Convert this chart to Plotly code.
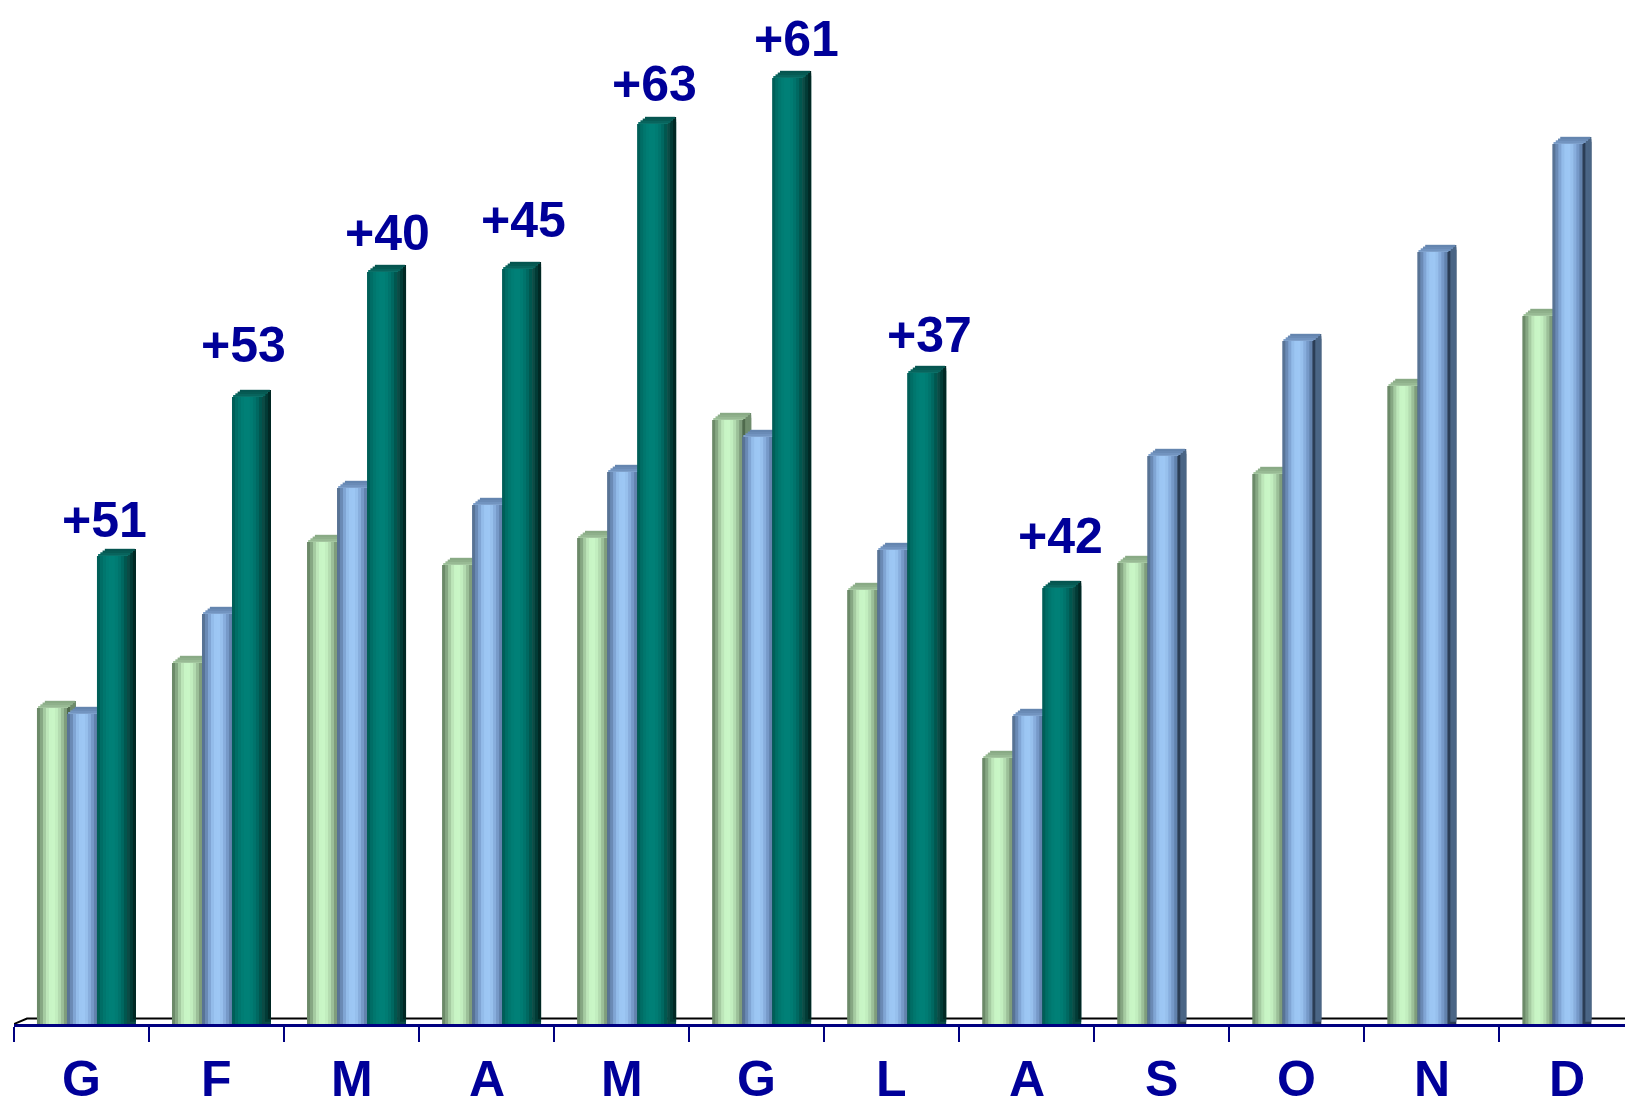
import plotly.graph_objects as go

# ---- data -------------------------------------------------------------
MONTHS = ["G", "F", "M", "A", "M", "G", "L", "A", "S", "O", "N", "D"]
SERIES_A = [31.6, 36.1, 48.2, 45.9, 48.6, 60.4, 43.4, 26.6, 46.1, 55.0, 63.8, 70.8]   # light green
SERIES_B = [31.0, 41.0, 53.6, 51.9, 55.2, 58.7, 47.4, 30.8, 56.8, 68.3, 77.2, 88.0]   # light blue
SERIES_C = [46.8, 62.7, 75.2, 75.5, 90.0, 94.6, 65.1, 43.6, None, None, None, None]  # teal
GROWTH_LABELS = ["+51", "+53", "+40", "+45", "+63", "+61", "+37", "+42"]

# ---- geometry / style -------------------------------------------------
W, H = 1625, 1107
M_L, M_B = 14, 83
X_MIN, X_MAX = -0.5, 11.43
Y_MAX = (H - M_B) / 10.0          # 10 px per unit
PX_X = (W - M_L) / (X_MAX - X_MIN)
PX_Y = (H - M_B) / Y_MAX

BAR_W = 30 / PX_X                 # front face width
START = -0.33                     # left edge of first bar in a group
DX = 9 / PX_X                     # 3-D depth (horizontal)
DY = 7 / PX_Y                     # 3-D depth (vertical)

NAVY = "#000099"
AXIS_NAVY = "#000080"
FONT = "Liberation Sans, Arial, sans-serif"

STYLE = [
    dict(  # light green
        front=["#6c8a69", "#86a783", "#a5cba1", "#bde6b9", "#c8f5c5",
               "#c9f6c6", "#c2eebf", "#b3dbb0", "#9bbf98", "#7f9d7c"],
        side=["#4f6a4d", "#6f8c6c", "#6f8c6c"],
        cap=["#a4c6a0", "#98ba94", "#8fb08b", "#89aa85"],
    ),
    dict(  # light blue
        front=["#587395", "#6a8ab5", "#80a5d4", "#93bcea", "#9cc6f3",
               "#9dc7f4", "#97c0ed", "#88aedd", "#7699c8", "#6282ad"],
        side=["#2b3d55", "#4a6585", "#4a6585"],
        cap=["#7fa1cc", "#7294c0", "#6a8bb6", "#6485af"],
    ),
    dict(  # teal
        front=["#005f58", "#006e66", "#00776e", "#007d74", "#008077",
               "#008077", "#007c73", "#00746c", "#006861", "#00574f"],
        side=["#0b4b45", "#023b36", "#012824"],
        cap=["#0c7068", "#08645d", "#065a53", "#055550"],
    ),
]

x_idx = list(range(len(MONTHS)))
fig = go.Figure()


def add_bar(y, base, offset, width, color):
    fig.add_trace(go.Bar(
        x=x_idx, y=y, base=base, offset=offset, width=width,
        marker=dict(color=color, line=dict(width=0)),
        hoverinfo="skip", showlegend=False,
    ))


for s, values in enumerate([SERIES_A, SERIES_B, SERIES_C]):
    st = STYLE[s]
    left = START + s * BAR_W
    right = left + BAR_W

    # cylinder-like front face: overlapping strips, each extending to the right edge
    n = len(st["front"])
    for k, col in enumerate(st["front"]):
        off = left + k * BAR_W / n
        add_bar(values, 0, off, right - off, col)

    # side face (stair-stepped parallelogram)
    ns = len(st["side"])
    for k, col in enumerate(st["side"]):
        off = right + k * DX / ns
        b = DY * k / ns
        ys = [None if v is None else v + DY * (k + 1) / ns - b for v in values]
        add_bar(ys, b, off, right + DX - off, col)

    # top face (stair-stepped parallelogram)
    nc = len(st["cap"])
    for k, col in enumerate(st["cap"]):
        shift = DX * (k + 0.5) / nc
        bases = [None if v is None else v + DY * k / nc for v in values]
        ys = [None if v is None else DY / nc + 0.02 for v in values]
        add_bar(ys, bases, left + shift, BAR_W, col)

# ---- annotations ------------------------------------------------------
ann = []
for i, m in enumerate(MONTHS):
    ann.append(dict(
        x=i, xref="x", y=0, yref="paper", yanchor="top", yshift=-25,
        text=f"<b>{m}</b>", showarrow=False,
        font=dict(family=FONT, size=50, color=NAVY),
    ))

# gap above the teal bar (px) and sideways nudge for each growth label
LABEL_GAP = [18, 34, 21, 31, 22, 21, 20, 34]
LABEL_NUDGE = [-7, -3, 5, 6, 2, 9, 7, 3]
teal_center = START + 2 * BAR_W + BAR_W / 2
for i, lab in enumerate(GROWTH_LABELS):
    ann.append(dict(
        x=i + teal_center, xref="x", y=SERIES_C[i], yref="y",
        yanchor="bottom", xanchor="center",
        yshift=LABEL_GAP[i] - 11.6, xshift=LABEL_NUDGE[i],
        text=f"<b>{lab}</b>", showarrow=False,
        font=dict(family=FONT, size=50, color=NAVY),
    ))

# floor back edge
floor_dx = 13 / PX_X
floor_dy = 5.5 / PX_Y
shapes = [dict(
    type="path", xref="x", yref="y", layer="below",
    path=f"M{X_MIN},0 L{X_MIN + floor_dx},{floor_dy} L{X_MAX},{floor_dy}",
    line=dict(color="black", width=2),
)]

fig.update_layout(
    width=W, height=H,
    margin=dict(l=M_L, r=0, t=0, b=M_B, pad=0),
    paper_bgcolor="white", plot_bgcolor="white",
    barmode="overlay",
    showlegend=False,
    annotations=ann,
    shapes=shapes,
    xaxis=dict(
        range=[X_MIN, X_MAX], showgrid=False, zeroline=False,
        showline=True, linecolor=AXIS_NAVY, linewidth=3,
        tickmode="array", tickvals=[i - 0.5 for i in range(len(MONTHS))],
        ticks="outside", ticklen=15, tickwidth=2, tickcolor=AXIS_NAVY,
        showticklabels=False, automargin=False, fixedrange=True,
    ),
    yaxis=dict(
        range=[0, Y_MAX], visible=False, showgrid=False, zeroline=False,
        automargin=False, fixedrange=True,
    ),
)

fig.write_html("out.html")
